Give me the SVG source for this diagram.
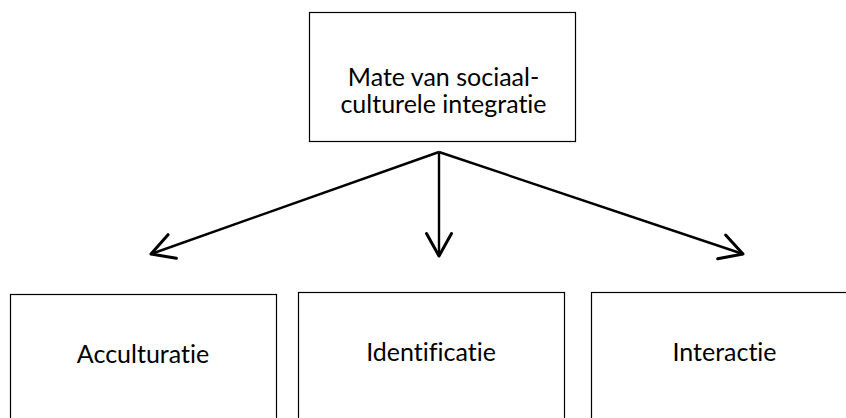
<svg xmlns="http://www.w3.org/2000/svg" width="846" height="418" viewBox="0 0 846 418">
  <style>
    .box { fill: #ffffff; stroke: #000000; stroke-width: 1.2; }
    .lbl { font-family: Lato, "Liberation Sans", sans-serif; font-size: 25px; fill: #000000; text-anchor: middle; font-variant-ligatures: none; font-feature-settings: "liga" 0, "dlig" 0; }
    .edge { stroke: #000000; stroke-width: 2.4; fill: none; marker-end: url(#arrow); }
  </style>
  <defs>
    <marker id="arrow" markerUnits="userSpaceOnUse" markerWidth="30" markerHeight="30" viewBox="-20 -12 24 24" refX="0" refY="0" orient="auto">
      <path d="M-18,-10 L0,0 L-18,10" fill="none" stroke="#000000" stroke-width="2.4" stroke-linejoin="round" stroke-linecap="round"/>
    </marker>
  </defs>
  <rect width="846" height="418" fill="#ffffff"/>
  <g id="node-top">
    <rect class="box" x="309.5" y="12.5" width="266" height="129"/>
    <text class="lbl" x="443.5" y="86">Mate van sociaal-</text>
    <text class="lbl" x="443.5" y="113">culturele integratie</text>
  </g>
  <g id="node-acculturatie">
    <rect class="box" x="10.5" y="294.5" width="266" height="140"/>
    <text class="lbl" x="143" y="362.5">Acculturatie</text>
  </g>
  <g id="node-identificatie">
    <rect class="box" x="298.5" y="292.5" width="266" height="140"/>
    <text class="lbl" x="431" y="361">Identificatie</text>
  </g>
  <g id="node-interactie">
    <rect class="box" x="591.5" y="292.5" width="266" height="140"/>
    <text class="lbl" x="724.5" y="361">Interactie</text>
  </g>
  <g id="connectors">
    <line class="edge" x1="439" y1="152" x2="151" y2="254"/>
    <line class="edge" x1="439" y1="152" x2="439" y2="256"/>
    <line class="edge" x1="439" y1="152" x2="743" y2="254"/>
  </g>
</svg>
